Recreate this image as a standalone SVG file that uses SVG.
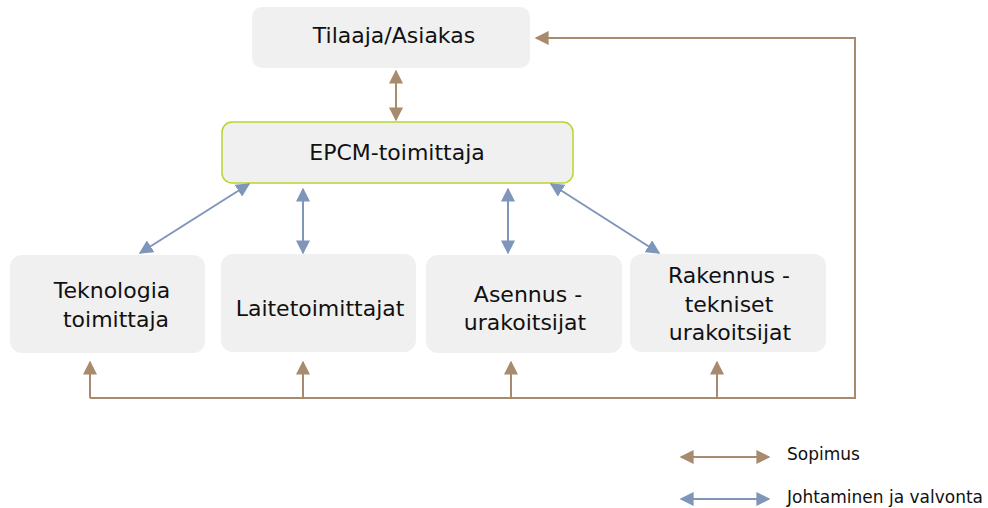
<svg xmlns="http://www.w3.org/2000/svg" width="988" height="508" viewBox="0 0 988 508">
<defs>
<style>
.box{fill:#F0F0F0;}
.epcm{fill:#F0F0F0;stroke:#B8D430;stroke-width:1.5;}
.t{font-family:"DejaVu Sans",Verdana,sans-serif;font-size:22px;fill:#111;text-anchor:middle;}
.lg{font-family:"DejaVu Sans",Verdana,sans-serif;font-size:17px;fill:#111;}
.br{stroke:#A88B6E;stroke-width:2;fill:none;}
.bl{stroke:#7F96BA;stroke-width:2;fill:none;}
</style>
<marker id="ab" viewBox="0 0 10 10" refX="9" refY="5" markerWidth="7" markerHeight="7" orient="auto-start-reverse" markerUnits="strokeWidth"><path d="M0,0 L10,5 L0,10 z" fill="#A88B6E"/></marker>
<marker id="al" viewBox="0 0 10 10" refX="9" refY="5" markerWidth="7" markerHeight="7" orient="auto-start-reverse" markerUnits="strokeWidth"><path d="M0,0 L10,5 L0,10 z" fill="#7F96BA"/></marker>
</defs>
<rect width="988" height="508" fill="#fff"/>
<g id="tilaaja"><rect class="box" x="252" y="7" width="278" height="61" rx="10"/><text class="t" x="394" y="43">Tilaaja/Asiakas</text></g>
<g id="epcm"><rect class="epcm" x="222" y="122" width="351" height="61" rx="10"/><text class="t" x="397" y="160">EPCM-toimittaja</text></g>
<g id="teknologia"><rect class="box" x="10" y="255" width="195" height="98" rx="12"/><text class="t" x="112" y="298">Teknologia</text><text class="t" x="116" y="327">toimittaja</text></g>
<g id="laite"><rect class="box" x="221" y="254" width="195" height="98" rx="12"/><text class="t" x="320" y="316">Laitetoimittajat</text></g>
<g id="asennus"><rect class="box" x="426" y="255" width="196" height="98" rx="12"/><text class="t" x="528" y="302">Asennus -</text><text class="t" x="525" y="330">urakoitsijat</text></g>
<g id="rakennus"><rect class="box" x="630" y="254" width="196" height="98" rx="12"/><text class="t" x="729" y="283">Rakennus -</text><text class="t" x="729" y="312">tekniset</text><text class="t" x="730" y="340">urakoitsijat</text></g>
<g id="connectors">
<line class="br" x1="396" y1="71" x2="396" y2="120" marker-start="url(#ab)" marker-end="url(#ab)"/>
<line class="bl" x1="140" y1="253" x2="249" y2="184" marker-start="url(#al)" marker-end="url(#al)"/>
<line class="bl" x1="303" y1="189" x2="303" y2="253" marker-start="url(#al)" marker-end="url(#al)"/>
<line class="bl" x1="508" y1="189" x2="508" y2="253" marker-start="url(#al)" marker-end="url(#al)"/>
<line class="bl" x1="551" y1="184" x2="659" y2="253" marker-start="url(#al)" marker-end="url(#al)"/>
<polyline class="br" points="90,398 855,398 855,38 536,38" marker-end="url(#ab)"/>
<line class="br" x1="90" y1="398" x2="90" y2="362" marker-end="url(#ab)"/>
<line class="br" x1="303" y1="398" x2="303" y2="362" marker-end="url(#ab)"/>
<line class="br" x1="511" y1="398" x2="511" y2="362" marker-end="url(#ab)"/>
<line class="br" x1="717" y1="398" x2="717" y2="362" marker-end="url(#ab)"/>
</g>
<g id="legend">
<line class="br" x1="681" y1="457" x2="769" y2="457" marker-start="url(#ab)" marker-end="url(#ab)"/>
<text class="lg" x="787" y="460">Sopimus</text>
<line class="bl" x1="681" y1="499" x2="769" y2="499" marker-start="url(#al)" marker-end="url(#al)"/>
<text class="lg" x="787" y="503">Johtaminen ja valvonta</text>
</g>
</svg>
